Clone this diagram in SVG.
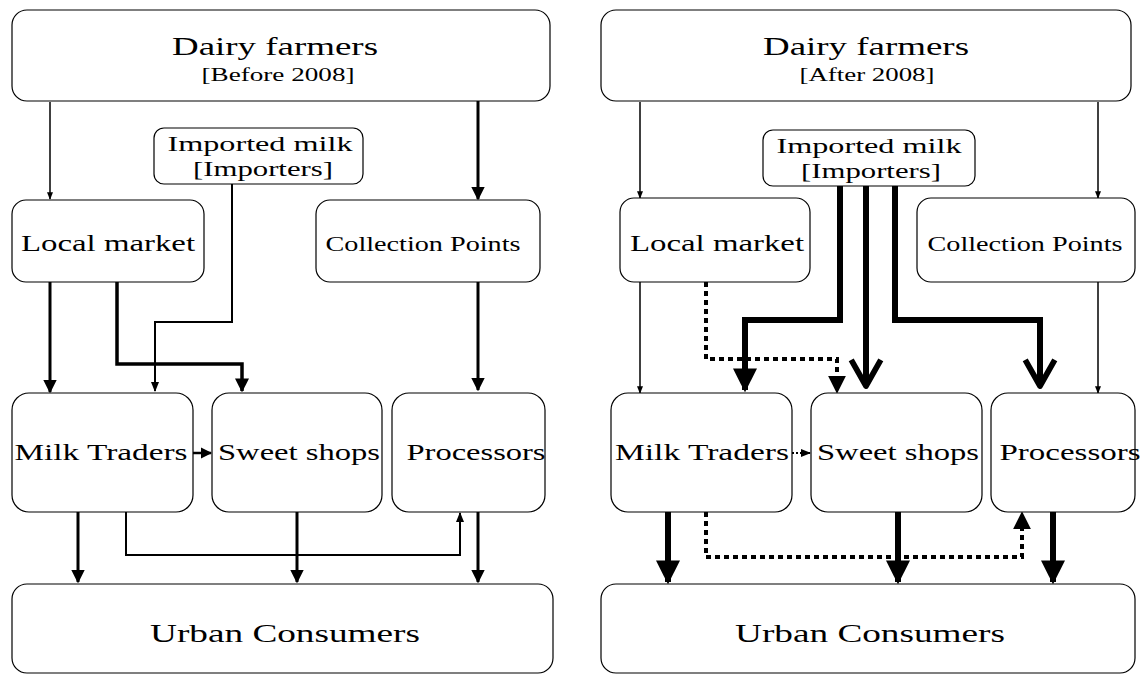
<svg xmlns="http://www.w3.org/2000/svg" width="1141" height="675" viewBox="0 0 1141 675">
<defs>
<style>
.box{fill:#fff;stroke:#000;stroke-width:1.2}
.t{font-family:"Liberation Serif","DejaVu Serif",serif;fill:#000;text-anchor:middle}
.c{fill:none;stroke:#000;stroke-linejoin:miter}
</style>
<marker id="a1" viewBox="0 0 10 10" refX="9" refY="5" markerWidth="5" markerHeight="5" orient="auto" markerUnits="strokeWidth"><path d="M0,1 L10,5 L0,9 z"/></marker>
<marker id="a2" viewBox="0 0 10 10" refX="9" refY="5" markerWidth="4.5" markerHeight="4.5" orient="auto" markerUnits="strokeWidth"><path d="M0,0 L10,5 L0,10 z"/></marker>
<marker id="a3" viewBox="0 0 10 10" refX="9" refY="5" markerWidth="4" markerHeight="4" orient="auto" markerUnits="strokeWidth"><path d="M0,0 L10,5 L0,10 z"/></marker>
<marker id="v" viewBox="0 0 10 10" refX="8.6" refY="5" markerWidth="5.6" markerHeight="5.6" orient="auto" markerUnits="strokeWidth" overflow="visible"><path d="M0.8,0.6 L8.6,5 L0.8,9.4" fill="none" stroke="#000" stroke-width="1.7" stroke-linejoin="round"/></marker>
</defs>

<g id="connectors">
<!-- left panel -->
<path class="c" d="M50,102 V199" stroke-width="1.5" marker-end="url(#a1)"/>
<path class="c" d="M478,101 V199" stroke-width="3" marker-end="url(#a2)"/>
<path class="c" d="M232,184 V322 H155 V391" stroke-width="2" marker-end="url(#a1)"/>
<path class="c" d="M50,282 V392" stroke-width="3" marker-end="url(#a2)"/>
<path class="c" d="M117,282 V364 H242 V391" stroke-width="3.5" marker-end="url(#a3)"/>
<path class="c" d="M478,282 V390" stroke-width="3" marker-end="url(#a2)"/>
<path class="c" d="M193,453 H211" stroke-width="2.5" marker-end="url(#a2)"/>
<path class="c" d="M78,512 V582" stroke-width="3" marker-end="url(#a2)"/>
<path class="c" d="M126,512 V555 H460 V513" stroke-width="2" marker-end="url(#a1)"/>
<path class="c" d="M297,512 V582" stroke-width="3" marker-end="url(#a2)"/>
<path class="c" d="M478,512 V582" stroke-width="3" marker-end="url(#a2)"/>
<!-- right panel -->
<path class="c" d="M640,102 V198" stroke-width="1.5" marker-end="url(#a1)"/>
<path class="c" d="M1098,102 V198" stroke-width="1.5" marker-end="url(#a1)"/>
<path class="c" d="M640,282 V393" stroke-width="1.5" marker-end="url(#a1)"/>
<path class="c" d="M1098,282 V393" stroke-width="1.5" marker-end="url(#a1)"/>
<path class="c" d="M840,186 V320 H745 V390" stroke-width="6" marker-end="url(#a3)"/>
<path class="c" d="M866,186 V386" stroke-width="6" marker-end="url(#v)"/>
<path class="c" d="M895,186 V320 H1040 V386" stroke-width="6" marker-end="url(#v)"/>
<path class="c" d="M706,282 V359 H837 V392" stroke-width="4" stroke-dasharray="5,4" marker-end="url(#a2)"/>
<path class="c" d="M792,453 H810" stroke-width="2" stroke-dasharray="2,2" marker-end="url(#a1)"/>
<path class="c" d="M668,512 V582" stroke-width="6" marker-end="url(#a3)"/>
<path class="c" d="M706,512 V557 H1022 V513" stroke-width="4" stroke-dasharray="5,4" marker-end="url(#a2)"/>
<path class="c" d="M898,512 V582" stroke-width="6" marker-end="url(#a3)"/>
<path class="c" d="M1053,512 V582" stroke-width="6" marker-end="url(#a3)"/>
</g>

<g id="L-dairy"><rect class="box" x="12" y="10" width="538" height="91" rx="15"/>
<text class="t" x="275" y="55" font-size="25" textLength="206" lengthAdjust="spacingAndGlyphs">Dairy farmers</text>
<text class="t" x="278" y="81" font-size="18" textLength="153" lengthAdjust="spacingAndGlyphs">[Before 2008]</text></g>
<g id="L-imported"><rect class="box" x="154" y="128" width="209" height="56" rx="10"/>
<text class="t" x="260" y="151" font-size="22" textLength="185" lengthAdjust="spacingAndGlyphs">Imported milk</text>
<text class="t" x="263" y="176" font-size="22" textLength="140" lengthAdjust="spacingAndGlyphs">[Importers]</text></g>
<g id="L-local"><rect class="box" x="12" y="200" width="192" height="82" rx="14"/>
<text class="t" x="108" y="251" font-size="24" textLength="174" lengthAdjust="spacingAndGlyphs">Local market</text></g>
<g id="L-collect"><rect class="box" x="316" y="200" width="224" height="82" rx="14"/>
<text class="t" x="423" y="251" font-size="20" textLength="195" lengthAdjust="spacingAndGlyphs">Collection Points</text></g>
<g id="L-traders"><rect class="box" x="12" y="393" width="181" height="119" rx="17"/>
<text class="t" x="101" y="460" font-size="24" textLength="173" lengthAdjust="spacingAndGlyphs">Milk Traders</text></g>
<g id="L-sweet"><rect class="box" x="212" y="393" width="170" height="119" rx="17"/>
<text class="t" x="299" y="460" font-size="24" textLength="162" lengthAdjust="spacingAndGlyphs">Sweet shops</text></g>
<g id="L-proc"><rect class="box" x="392" y="393" width="153" height="119" rx="17"/>
<text class="t" x="476" y="460" font-size="24" textLength="139" lengthAdjust="spacingAndGlyphs">Processors</text></g>
<g id="L-urban"><rect class="box" x="12" y="584" width="541" height="89" rx="15"/>
<text class="t" x="285" y="642" font-size="26" textLength="270" lengthAdjust="spacingAndGlyphs">Urban Consumers</text></g>

<g id="R-dairy"><rect class="box" x="601" y="10" width="530" height="91" rx="15"/>
<text class="t" x="866" y="55" font-size="25" textLength="206" lengthAdjust="spacingAndGlyphs">Dairy farmers</text>
<text class="t" x="867" y="81" font-size="18" textLength="135" lengthAdjust="spacingAndGlyphs">[After 2008]</text></g>
<g id="R-imported"><rect class="box" x="763" y="130" width="212" height="56" rx="10"/>
<text class="t" x="869" y="153" font-size="22" textLength="185" lengthAdjust="spacingAndGlyphs">Imported milk</text>
<text class="t" x="871" y="178" font-size="22" textLength="140" lengthAdjust="spacingAndGlyphs">[Importers]</text></g>
<g id="R-local"><rect class="box" x="620" y="198" width="190" height="84" rx="14"/>
<text class="t" x="717" y="251" font-size="24" textLength="174" lengthAdjust="spacingAndGlyphs">Local market</text></g>
<g id="R-collect"><rect class="box" x="917" y="198" width="218" height="84" rx="14"/>
<text class="t" x="1025" y="251" font-size="20" textLength="195" lengthAdjust="spacingAndGlyphs">Collection Points</text></g>
<g id="R-traders"><rect class="box" x="611" y="393" width="181" height="119" rx="17"/>
<text class="t" x="702" y="460" font-size="24" textLength="174" lengthAdjust="spacingAndGlyphs">Milk Traders</text></g>
<g id="R-sweet"><rect class="box" x="811" y="393" width="171" height="119" rx="17"/>
<text class="t" x="898" y="460" font-size="24" textLength="162" lengthAdjust="spacingAndGlyphs">Sweet shops</text></g>
<g id="R-proc"><rect class="box" x="991" y="393" width="144" height="119" rx="17"/>
<text class="t" x="1070" y="460" font-size="24" textLength="141" lengthAdjust="spacingAndGlyphs">Processors</text></g>
<g id="R-urban"><rect class="box" x="601" y="584" width="534" height="89" rx="15"/>
<text class="t" x="870" y="642" font-size="26" textLength="270" lengthAdjust="spacingAndGlyphs">Urban Consumers</text></g>
</svg>
